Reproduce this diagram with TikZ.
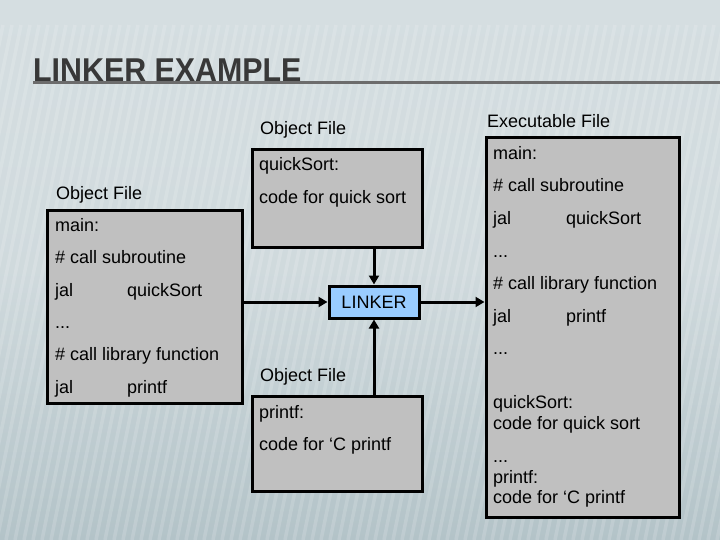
\documentclass[tikz,border=0pt]{standalone}
\usepackage{fontspec}
\setmainfont{Liberation Sans}
\usetikzlibrary{arrows.meta,calc}
\definecolor{bgtop}{HTML}{D5DEE1}
\definecolor{bgbot}{HTML}{B3C3C8}
\definecolor{boxgray}{HTML}{C0C0C0}
\definecolor{linkblue}{HTML}{99CCFF}
\definecolor{titlegray}{HTML}{383838}
\definecolor{rulegray}{HTML}{6C6C6C}
\tikzset{
  txt/.style={inner sep=0pt, anchor=base west, font=\fontsize{18}{18}\selectfont, text=black},
  filebox/.style={draw=black, line width=3pt, fill=boxgray, inner sep=0pt},
  linkbox/.style={draw=black, line width=3pt, fill=linkblue, inner sep=0pt,
    minimum width=90pt, minimum height=32pt, font=\fontsize{18}{18}\selectfont},
  arr/.style={line width=3pt, -{Triangle[length=9pt,width=10pt]}}
}
\begin{document}
\begin{tikzpicture}[x=1pt,y=-1pt]
\useasboundingbox (0,0) rectangle (720,540);
% background
\shade[top color=bgtop, bottom color=bgbot, middle color=bgtop!85!bgbot] (0,0) rectangle (720,540);
\begin{scope}
\clip (0,0) rectangle (720,540);
\foreach \i in {-120,-111,...,740} {
  \draw[white, opacity=0.15, line width=3.5pt] (\i,540) -- (\i+105,25);
}
\end{scope}
% title
\node[inner sep=0pt, anchor=base west, text=titlegray] (title) at (33,82)
  {\scalebox{0.92}[1]{\fontsize{33}{33}\selectfont\bfseries LINKER EXAMPLE}};
\coordinate (rulestart) at (33,82.5);
\coordinate (ruleend) at (720,82.5);
\draw[rulegray, line width=2.2pt] (rulestart) -- (ruleend);

% boxes
\node[filebox, minimum width=170pt, minimum height=97pt] (qs) at (337,198.5) {};
\node[filebox, minimum width=195pt, minimum height=192pt] (lf) at (144.5,307) {};
\node[filebox, minimum width=170pt, minimum height=95pt] (pf) at (337,443.5) {};
\node[filebox, minimum width=193pt, minimum height=379pt] (ex) at (582.5,327.5) {};
\node[linkbox] (linker) at (374,302) {LINKER};

% labels
\node[txt] (qslab) at (260,135) {Object File};
\node[txt] (lflab) at (56,200) {Object File};
\node[txt] (pflab) at (260,381) {Object File};
\node[txt] (exlab) at (487,128) {Executable File};

% top box text
\node[txt] (qs1) at (259,171) {quickSort:};
\node[txt] (qs2) at (259,204) {code for quick sort};

% left box text
\node[txt] (lf1) at (55,231) {main:};
\node[txt] (lf2) at (55,263) {\# call subroutine};
\node[txt] (lf3) at (55,296) {jal};
\node[txt] (lf3b) at (127,296) {quickSort};
\node[txt] (lf4) at (55,328) {...};
\node[txt] (lf5) at (55,360) {\# call library function};
\node[txt] (lf6) at (55,393) {jal};
\node[txt] (lf6b) at (127,393) {printf};

% bottom box text
\node[txt] (pf1) at (259,418) {printf:};
\node[txt] (pf2) at (259,450) {code for ‘C printf};

% executable text
\node[txt] (ex1) at (493,160) {main:};
\node[txt] (ex2) at (493,192) {\# call subroutine};
\node[txt] (ex3) at (493,225) {jal};
\node[txt] (ex3b) at (566,225) {quickSort};
\node[txt] (ex4) at (493,257) {...};
\node[txt] (ex5) at (493,289) {\# call library function};
\node[txt] (ex6) at (493,322) {jal};
\node[txt] (ex6b) at (566,322) {printf};
\node[txt] (ex7) at (493,354) {...};
\node[txt] (ex8) at (493,408) {quickSort:};
\node[txt] (ex9) at (493,429) {code for quick sort};
\node[txt] (ex10) at (493,462) {...};
\node[txt] (ex11) at (493,483) {printf:};
\node[txt] (ex12) at (493,503) {code for ‘C printf};

% connectors
\draw[arr] (lf.east |- linker.west) -- (linker.west);
\draw[arr] (linker.east) -- (ex.west |- linker.east);
\draw[arr] (qs.south -| linker.north) -- (linker.north);
\draw[arr] (pf.north -| linker.south) -- (linker.south);
\end{tikzpicture}
\end{document}
